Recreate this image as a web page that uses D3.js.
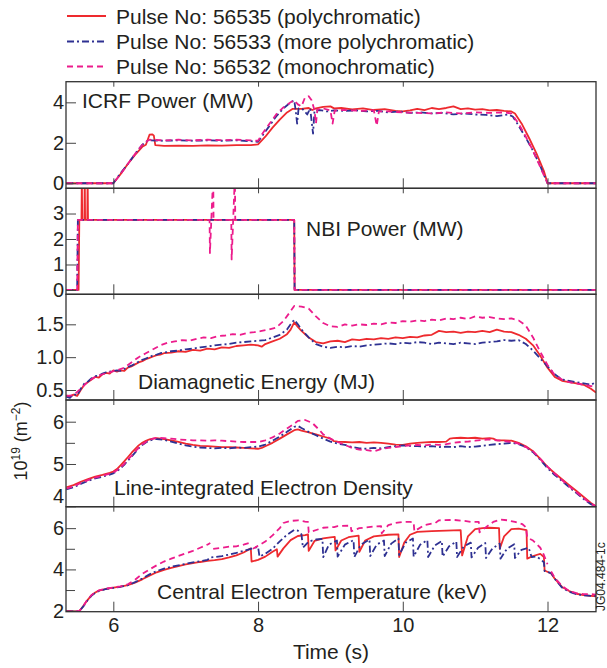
<!DOCTYPE html>
<html>
<head>
<meta charset="utf-8">
<script src="https://cdn.jsdelivr.net/npm/d3@7"></script>
<style>
  body { margin: 0; background: #fff; }
  svg { display: block; }
  text { font-family: "Liberation Sans", Arial, Helvetica, sans-serif; fill: #231f20; }
</style>
</head>
<body>
<svg id="chart" width="607" height="668"></svg>
<script>
// ---- data: [time (s), value] ----
const pulses = ["Pulse No: 56535 (polychromatic)", "Pulse No: 56533 (more polychromatic)", "Pulse No: 56532 (monochromatic)"];
const timeTicks = [6, 8, 10, 12];

const icrfRed = [[5.35,0],[6.0,0],[6.1,0.45],[6.2,0.95],[6.3,1.4],[6.4,1.8],[6.45,1.9],[6.48,2.2],[6.5,2.4],[6.54,2.42],[6.56,2.35],[6.58,1.88],[6.7,1.85],[6.9,1.86],[7.1,1.85],[7.3,1.87],[7.5,1.86],[7.7,1.88],[7.9,1.88],[8.0,1.92],[8.1,2.3],[8.2,2.75],[8.3,3.15],[8.4,3.5],[8.48,3.68],[8.6,3.68],[8.7,3.72],[8.75,3.62],[8.8,3.7],[8.9,3.78],[9.0,3.8],[9.05,3.7],[9.15,3.72],[9.3,3.65],[9.45,3.7],[9.6,3.62],[9.75,3.66],[9.9,3.58],[10.0,3.55],[10.1,3.6],[10.2,3.68],[10.3,3.62],[10.4,3.72],[10.5,3.66],[10.6,3.72],[10.7,3.8],[10.8,3.66],[10.9,3.7],[11.0,3.64],[11.1,3.66],[11.2,3.6],[11.3,3.62],[11.4,3.58],[11.5,3.55],[11.55,3.45],[11.65,2.9],[11.75,2.2],[11.85,1.45],[11.95,0.6],[12.0,0],[12.67,0]];
const icrfBlue = [[5.35,0],[6.0,0],[6.1,0.5],[6.2,0.95],[6.3,1.45],[6.4,1.9],[6.45,2.05],[6.5,2.12],[6.7,2.1],[6.9,2.12],[7.1,2.1],[7.3,2.12],[7.5,2.1],[7.7,2.12],[7.9,2.08],[8.0,2.05],[8.05,2.3],[8.15,2.8],[8.25,3.3],[8.35,3.7],[8.45,4.0],[8.5,4.1],[8.52,3.6],[8.54,2.95],[8.56,3.7],[8.62,3.65],[8.68,3.4],[8.72,3.7],[8.76,2.45],[8.78,3.6],[8.85,3.62],[8.95,3.55],[9.05,3.6],[9.2,3.58],[9.35,3.6],[9.5,3.55],[9.65,3.58],[9.8,3.5],[9.95,3.55],[10.1,3.48],[10.25,3.5],[10.4,3.45],[10.55,3.48],[10.7,3.4],[10.85,3.45],[11.0,3.4],[11.15,3.38],[11.3,3.32],[11.45,3.4],[11.52,3.3],[11.6,2.85],[11.7,2.25],[11.8,1.6],[11.9,0.85],[12.0,0],[12.67,0]];
const icrfMag = [[5.35,0],[6.0,0],[6.1,0.45],[6.2,0.95],[6.3,1.45],[6.4,1.9],[6.45,2.05],[6.5,2.15],[6.7,2.12],[6.9,2.15],[7.1,2.12],[7.3,2.15],[7.5,2.13],[7.7,2.15],[7.9,2.12],[8.0,2.1],[8.05,2.4],[8.15,2.9],[8.25,3.4],[8.35,3.75],[8.45,4.0],[8.5,4.1],[8.55,3.9],[8.6,3.8],[8.65,4.25],[8.7,4.3],[8.74,4.1],[8.78,3.6],[8.8,2.95],[8.82,3.65],[8.9,3.7],[9.0,3.6],[9.03,2.95],[9.06,3.6],[9.2,3.62],[9.4,3.58],[9.6,3.6],[9.64,2.85],[9.67,3.55],[9.8,3.55],[10.0,3.5],[10.2,3.48],[10.4,3.45],[10.6,3.5],[10.8,3.45],[11.0,3.5],[11.2,3.48],[11.4,3.5],[11.5,3.45],[11.6,2.95],[11.7,2.3],[11.8,1.6],[11.9,0.8],[12.0,0],[12.67,0]];

const nbiRed = [[5.35,0],[5.52,0],[5.53,2.75],[5.56,2.75],[5.565,4.5],[5.57,2.75],[5.6,2.75],[5.605,4.5],[5.61,2.75],[5.64,2.75],[5.645,4.5],[5.65,2.75],[8.5,2.75],[8.505,0],[12.67,0]];
const nbiBlue = [[5.35,0],[5.5,0],[5.51,2.75],[8.5,2.75],[8.505,0],[12.67,0]];
const nbiMag = [[5.35,0],[5.5,0],[5.51,2.75],[7.33,2.75],[7.335,1.45],[7.38,4.5],[7.385,2.75],[7.63,2.75],[7.635,1.2],[7.68,4.5],[7.685,2.75],[8.5,2.75],[8.505,0],[12.67,0]];

const wdiaRed = [[5.35,0.42],[5.4,0.4],[5.45,0.43],[5.5,0.41],[5.55,0.5],[5.6,0.58],[5.65,0.62],[5.7,0.66],[5.75,0.7],[5.8,0.69],[5.85,0.74],[5.9,0.76],[5.95,0.75],[6.0,0.8],[6.05,0.78],[6.1,0.8],[6.15,0.79],[6.2,0.84],[6.25,0.86],[6.3,0.89],[6.35,0.92],[6.4,0.94],[6.45,0.97],[6.5,0.99],[6.55,1.01],[6.6,1.03],[6.65,1.04],[6.7,1.06],[6.8,1.07],[6.9,1.09],[7.0,1.08],[7.1,1.11],[7.2,1.1],[7.3,1.13],[7.4,1.12],[7.5,1.15],[7.6,1.14],[7.7,1.17],[7.8,1.18],[7.9,1.19],[8.0,1.18],[8.05,1.16],[8.1,1.2],[8.2,1.24],[8.3,1.28],[8.4,1.35],[8.45,1.42],[8.5,1.53],[8.55,1.46],[8.6,1.4],[8.7,1.3],[8.8,1.23],[8.9,1.21],[9.0,1.24],[9.1,1.25],[9.2,1.23],[9.3,1.27],[9.4,1.26],[9.5,1.28],[9.6,1.27],[9.7,1.29],[9.8,1.28],[9.9,1.3],[10.0,1.29],[10.1,1.31],[10.2,1.3],[10.3,1.33],[10.4,1.34],[10.5,1.4],[10.6,1.38],[10.7,1.39],[10.8,1.37],[10.9,1.39],[11.0,1.38],[11.1,1.4],[11.2,1.38],[11.3,1.42],[11.4,1.39],[11.5,1.38],[11.6,1.34],[11.7,1.28],[11.8,1.18],[11.9,1.02],[12.0,0.84],[12.1,0.7],[12.2,0.64],[12.3,0.62],[12.4,0.6],[12.5,0.58],[12.6,0.52],[12.67,0.46]];
const wdiaBlue = [[5.35,0.4],[5.4,0.38],[5.45,0.44],[5.5,0.42],[5.55,0.52],[5.6,0.6],[5.65,0.63],[5.7,0.68],[5.75,0.71],[5.8,0.72],[5.85,0.75],[5.9,0.77],[5.95,0.78],[6.0,0.79],[6.05,0.8],[6.1,0.79],[6.15,0.82],[6.2,0.85],[6.25,0.87],[6.3,0.9],[6.35,0.93],[6.4,0.96],[6.45,0.98],[6.5,1.0],[6.55,1.03],[6.6,1.04],[6.65,1.06],[6.7,1.07],[6.8,1.09],[6.9,1.1],[7.0,1.12],[7.1,1.13],[7.2,1.15],[7.3,1.16],[7.4,1.18],[7.5,1.19],[7.6,1.2],[7.7,1.22],[7.8,1.23],[7.9,1.24],[8.0,1.25],[8.1,1.26],[8.2,1.3],[8.3,1.34],[8.4,1.42],[8.45,1.5],[8.5,1.57],[8.55,1.5],[8.6,1.42],[8.7,1.3],[8.8,1.2],[8.9,1.16],[9.0,1.14],[9.1,1.16],[9.2,1.15],[9.3,1.17],[9.4,1.16],[9.5,1.18],[9.6,1.19],[9.7,1.2],[9.8,1.21],[9.9,1.2],[10.0,1.22],[10.1,1.21],[10.2,1.23],[10.3,1.22],[10.4,1.2],[10.5,1.22],[10.6,1.21],[10.7,1.2],[10.8,1.22],[10.9,1.21],[11.0,1.2],[11.1,1.22],[11.2,1.23],[11.3,1.24],[11.4,1.26],[11.5,1.25],[11.6,1.26],[11.7,1.2],[11.8,1.1],[11.9,0.98],[12.0,0.86],[12.1,0.74],[12.2,0.66],[12.3,0.64],[12.4,0.62],[12.5,0.6],[12.6,0.58],[12.67,0.62]];
const wdiaMag = [[5.35,0.41],[5.45,0.42],[5.55,0.52],[5.65,0.63],[5.75,0.7],[5.85,0.74],[5.95,0.77],[6.05,0.8],[6.15,0.84],[6.25,0.92],[6.35,1.0],[6.45,1.06],[6.55,1.12],[6.65,1.18],[6.75,1.22],[6.85,1.24],[6.95,1.26],[7.05,1.25],[7.15,1.28],[7.25,1.3],[7.35,1.29],[7.45,1.32],[7.55,1.33],[7.65,1.35],[7.75,1.34],[7.85,1.37],[7.95,1.38],[8.05,1.4],[8.15,1.42],[8.25,1.45],[8.35,1.55],[8.45,1.7],[8.5,1.78],[8.6,1.77],[8.7,1.74],[8.8,1.62],[8.9,1.52],[9.0,1.47],[9.1,1.46],[9.2,1.5],[9.3,1.48],[9.4,1.5],[9.5,1.49],[9.6,1.51],[9.7,1.5],[9.8,1.53],[9.9,1.52],[10.0,1.55],[10.1,1.54],[10.2,1.56],[10.3,1.55],[10.4,1.57],[10.5,1.56],[10.6,1.59],[10.7,1.58],[10.8,1.6],[10.9,1.58],[11.0,1.62],[11.1,1.6],[11.2,1.61],[11.3,1.59],[11.4,1.58],[11.5,1.59],[11.6,1.56],[11.7,1.48],[11.8,1.3],[11.9,1.08],[12.0,0.88],[12.1,0.73],[12.2,0.66],[12.3,0.62],[12.4,0.6],[12.5,0.58],[12.6,0.56],[12.67,0.55]];

const neRed = [[5.35,4.45],[5.45,4.5],[5.55,4.58],[5.65,4.64],[5.75,4.7],[5.85,4.74],[5.95,4.79],[6.0,4.82],[6.05,4.88],[6.1,4.97],[6.15,5.06],[6.2,5.16],[6.25,5.26],[6.3,5.35],[6.35,5.44],[6.4,5.5],[6.45,5.55],[6.5,5.58],[6.55,5.6],[6.6,5.61],[6.7,5.59],[6.8,5.56],[6.9,5.52],[7.0,5.48],[7.1,5.45],[7.2,5.43],[7.3,5.42],[7.4,5.41],[7.5,5.4],[7.6,5.4],[7.7,5.39],[7.8,5.38],[7.9,5.37],[8.0,5.36],[8.05,5.38],[8.1,5.42],[8.2,5.5],[8.3,5.6],[8.4,5.7],[8.5,5.8],[8.55,5.82],[8.6,5.79],[8.7,5.75],[8.8,5.7],[8.9,5.65],[9.0,5.6],[9.05,5.54],[9.1,5.53],[9.2,5.52],[9.3,5.51],[9.4,5.52],[9.5,5.5],[9.6,5.51],[9.7,5.5],[9.8,5.48],[9.9,5.46],[10.0,5.45],[10.1,5.48],[10.2,5.5],[10.3,5.51],[10.4,5.52],[10.5,5.52],[10.6,5.53],[10.65,5.6],[10.7,5.61],[10.8,5.62],[10.9,5.61],[11.0,5.62],[11.1,5.6],[11.2,5.61],[11.25,5.6],[11.3,5.56],[11.4,5.56],[11.5,5.55],[11.6,5.5],[11.7,5.42],[11.8,5.3],[11.9,5.12],[12.0,4.93],[12.1,4.78],[12.2,4.64],[12.3,4.5],[12.4,4.36],[12.5,4.22],[12.6,4.08],[12.67,4.0]];
const neBlue = [[5.35,4.4],[5.45,4.45],[5.55,4.53],[5.65,4.6],[5.75,4.66],[5.85,4.7],[5.95,4.75],[6.0,4.78],[6.05,4.83],[6.1,4.9],[6.15,4.98],[6.2,5.08],[6.25,5.17],[6.3,5.27],[6.35,5.37],[6.4,5.45],[6.45,5.51],[6.5,5.55],[6.55,5.58],[6.6,5.59],[6.7,5.57],[6.8,5.53],[6.9,5.48],[7.0,5.44],[7.1,5.41],[7.2,5.39],[7.3,5.38],[7.4,5.37],[7.5,5.38],[7.6,5.37],[7.7,5.39],[7.8,5.38],[7.9,5.4],[8.0,5.41],[8.1,5.46],[8.2,5.55],[8.3,5.65],[8.4,5.76],[8.5,5.88],[8.55,5.9],[8.6,5.85],[8.7,5.76],[8.8,5.68],[8.9,5.6],[9.0,5.53],[9.1,5.48],[9.2,5.45],[9.3,5.4],[9.4,5.37],[9.5,5.36],[9.6,5.38],[9.7,5.37],[9.8,5.4],[9.9,5.42],[10.0,5.44],[10.1,5.43],[10.2,5.42],[10.3,5.41],[10.4,5.42],[10.5,5.4],[10.6,5.41],[10.7,5.4],[10.8,5.42],[10.9,5.4],[11.0,5.41],[11.1,5.43],[11.2,5.45],[11.3,5.47],[11.4,5.48],[11.5,5.5],[11.6,5.47],[11.7,5.4],[11.8,5.28],[11.9,5.1],[12.0,4.9],[12.1,4.74],[12.2,4.6],[12.3,4.45],[12.4,4.31],[12.5,4.17],[12.6,4.05],[12.67,3.99]];
const neMag = [[5.35,4.42],[5.45,4.47],[5.55,4.55],[5.65,4.62],[5.75,4.68],[5.85,4.72],[5.95,4.77],[6.0,4.8],[6.05,4.85],[6.1,4.92],[6.15,5.0],[6.2,5.1],[6.25,5.19],[6.3,5.29],[6.35,5.38],[6.4,5.46],[6.45,5.52],[6.5,5.57],[6.55,5.6],[6.6,5.62],[6.7,5.61],[6.8,5.6],[6.9,5.58],[7.0,5.57],[7.1,5.56],[7.2,5.56],[7.3,5.55],[7.4,5.56],[7.5,5.55],[7.6,5.54],[7.7,5.53],[7.8,5.52],[7.9,5.52],[8.0,5.52],[8.1,5.56],[8.2,5.63],[8.3,5.72],[8.4,5.84],[8.5,5.95],[8.55,6.02],[8.65,6.04],[8.75,5.97],[8.85,5.8],[8.9,5.7],[9.0,5.6],[9.1,5.52],[9.2,5.45],[9.3,5.38],[9.4,5.34],[9.5,5.33],[9.6,5.3],[9.7,5.35],[9.8,5.38],[9.9,5.4],[10.0,5.42],[10.1,5.44],[10.2,5.45],[10.3,5.44],[10.4,5.46],[10.5,5.45],[10.6,5.47],[10.7,5.5],[10.8,5.52],[10.9,5.53],[11.0,5.55],[11.1,5.57],[11.2,5.58],[11.3,5.56],[11.4,5.54],[11.5,5.52],[11.6,5.48],[11.7,5.4],[11.8,5.3],[11.9,5.12],[12.0,4.94],[12.1,4.77],[12.2,4.62],[12.3,4.47],[12.4,4.33],[12.5,4.19],[12.6,4.06],[12.67,4.0]];

const teRed = [[5.35,1.98],[5.45,1.97],[5.53,1.98],[5.58,2.2],[5.64,2.5],[5.7,2.75],[5.75,2.88],[5.8,2.97],[5.9,3.06],[6.0,3.12],[6.1,3.17],[6.2,3.24],[6.3,3.36],[6.4,3.52],[6.5,3.7],[6.6,3.86],[6.7,3.98],[6.8,4.08],[6.9,4.16],[7.0,4.24],[7.1,4.3],[7.2,4.36],[7.3,4.41],[7.4,4.45],[7.5,4.5],[7.6,4.58],[7.7,4.68],[7.8,4.82],[7.9,5.02],[7.91,4.38],[8.0,4.46],[8.1,4.62],[8.2,4.86],[8.26,4.98],[8.27,4.62],[8.35,5.02],[8.45,5.42],[8.55,5.62],[8.65,5.66],[8.69,5.7],[8.7,4.9],[8.78,5.38],[8.9,5.5],[9.0,5.55],[9.06,5.58],[9.07,4.92],[9.15,5.4],[9.25,5.56],[9.39,5.64],[9.4,4.85],[9.48,5.4],[9.6,5.6],[9.8,5.68],[9.94,5.7],[9.95,4.6],[10.02,5.3],[10.1,5.68],[10.2,5.82],[10.4,5.86],[10.6,5.88],[10.8,5.9],[10.82,4.68],[10.9,5.6],[11.0,5.95],[11.1,6.0],[11.2,6.02],[11.33,6.0],[11.34,5.0],[11.4,5.6],[11.5,5.95],[11.6,5.98],[11.71,5.9],[11.72,4.52],[11.8,4.65],[11.9,4.75],[11.95,4.6],[11.96,3.95],[12.05,3.8],[12.1,3.55],[12.2,3.15],[12.3,2.95],[12.4,2.82],[12.5,2.75],[12.6,2.72],[12.67,2.7]];
const teBlue = [[5.35,1.97],[5.45,1.96],[5.53,1.98],[5.58,2.18],[5.64,2.48],[5.7,2.73],[5.75,2.86],[5.8,2.95],[5.9,3.05],[6.0,3.1],[6.1,3.16],[6.2,3.23],[6.3,3.38],[6.4,3.56],[6.5,3.76],[6.6,3.92],[6.7,4.04],[6.8,4.13],[6.9,4.2],[7.0,4.27],[7.1,4.34],[7.2,4.4],[7.3,4.46],[7.34,4.58],[7.4,4.6],[7.5,4.64],[7.6,4.72],[7.7,4.8],[7.8,4.9],[7.9,5.0],[8.0,5.1],[8.02,4.62],[8.1,4.76],[8.2,5.0],[8.3,5.36],[8.4,5.68],[8.5,5.92],[8.55,5.88],[8.6,5.7],[8.62,5.05],[8.7,5.35],[8.8,5.45],[8.89,5.48],[8.9,4.6],[8.98,5.2],[9.09,5.4],[9.1,4.62],[9.2,5.2],[9.32,5.42],[9.33,4.6],[9.42,5.2],[9.54,5.45],[9.55,4.65],[9.64,5.2],[9.74,5.4],[9.75,4.65],[9.84,5.25],[9.94,5.5],[9.95,4.7],[10.04,5.3],[10.14,5.5],[10.15,4.62],[10.24,5.2],[10.34,5.42],[10.35,4.6],[10.44,5.15],[10.54,5.38],[10.55,4.62],[10.64,5.12],[10.74,5.35],[10.75,4.6],[10.84,5.1],[10.94,5.3],[10.95,4.58],[11.04,5.05],[11.14,5.28],[11.15,4.55],[11.24,5.02],[11.34,5.25],[11.35,4.52],[11.44,5.0],[11.54,5.22],[11.55,4.55],[11.64,4.95],[11.74,5.05],[11.78,4.6],[11.85,4.62],[11.9,4.5],[11.95,4.35],[11.96,3.92],[12.05,3.82],[12.1,3.55],[12.2,3.12],[12.3,2.92],[12.4,2.8],[12.5,2.74],[12.6,2.72],[12.67,2.72]];
const teMag = [[5.35,1.98],[5.45,1.97],[5.53,1.98],[5.58,2.2],[5.64,2.52],[5.7,2.76],[5.75,2.89],[5.8,2.98],[5.9,3.07],[6.0,3.12],[6.1,3.18],[6.2,3.28],[6.3,3.5],[6.4,3.78],[6.5,4.0],[6.6,4.2],[6.7,4.38],[6.8,4.52],[6.9,4.65],[7.0,4.78],[7.1,4.9],[7.2,5.05],[7.3,5.2],[7.34,5.28],[7.36,null],[7.38,5.0],[7.5,5.05],[7.6,5.1],[7.7,5.12],[7.8,5.2],[7.88,5.28],[7.9,null],[7.93,5.0],[8.0,5.15],[8.1,5.35],[8.2,5.65],[8.3,6.0],[8.35,6.25],[8.45,6.35],[8.55,6.38],[8.65,6.32],[8.69,6.3],[8.7,5.8],[8.75,5.85],[8.9,6.02],[9.05,6.05],[9.1,6.1],[9.28,6.12],[9.29,5.85],[9.4,6.0],[9.6,6.08],[9.7,6.1],[9.71,5.75],[9.8,6.15],[9.9,6.25],[10.0,6.3],[10.1,6.3],[10.15,6.28],[10.16,5.85],[10.3,6.15],[10.45,6.25],[10.5,6.38],[10.7,6.4],[10.85,6.35],[10.95,6.3],[11.05,6.3],[11.06,5.8],[11.15,6.05],[11.25,6.3],[11.35,6.42],[11.45,6.38],[11.55,6.3],[11.65,6.2],[11.7,6.05],[11.72,5.55],[11.8,5.4],[11.9,5.05],[11.95,4.7],[12.0,4.25],[12.02,null],[12.05,3.9],[12.1,3.6],[12.2,3.2],[12.3,2.95],[12.4,2.85],[12.5,2.8],[12.6,2.8],[12.67,2.78]];

const icrfTicks = [0, 2, 4];
const nbiTicks = [0, 1, 2, 3];
const wdiaTicks = [0.5, 1.0, 1.5];
const neTicks = [4, 5, 6], neMinor = [5.5];
const teTicks = [2, 4, 6], teMinor = [3, 5];

// ---- layout ----
const left = 66, right = 596;
const colors = ["#ee2a2e", "#2e3192", "#ec1c8c"];
const dashes = [null, "7,3,2,3", "6,4"];

const svg = d3.select("#chart");
const x = d3.scaleLinear().domain([5.346, 12.67]).range([left, right]);

const panels = [
  {top: 81.7, bottom: 188.3, domain: [-0.25, 5.02], ticks: icrfTicks, minor: [], fmt: d3.format("d"),
   series: [icrfRed, icrfBlue, icrfMag], label: "ICRF Power (MW)", lx: 82, ly: 108},
  {top: 188.3, bottom: 294.3, domain: [-0.17, 3.99], ticks: nbiTicks, minor: [], fmt: d3.format("d"),
   series: [nbiRed, nbiBlue, nbiMag], label: "NBI Power (MW)", lx: 306, ly: 236},
  {top: 294.3, bottom: 400, domain: [0.348, 1.957], ticks: wdiaTicks, minor: [], fmt: d3.format(".1f"),
   series: [wdiaRed, wdiaBlue, wdiaMag], label: "Diamagnetic Energy (MJ)", lx: 138, ly: 389},
  {top: 400, bottom: 506.7, domain: [3.99, 6.513], ticks: neTicks, minor: neMinor, fmt: d3.format("d"),
   series: [neRed, neBlue, neMag], label: "Line-integrated Electron Density", lx: 114, ly: 495, liftLow: 10},
  {top: 506.7, bottom: 611.7, domain: [1.95, 7.04], ticks: teTicks, minor: teMinor, fmt: d3.format("d"),
   series: [teRed, teBlue, teMag], label: "Central Electron Temperature (keV)", lx: 157, ly: 599}
];

panels.forEach((p, i) => {
  const y = d3.scaleLinear().domain(p.domain).range([p.bottom, p.top]);
  const g = svg.append("g");

  g.append("clipPath").attr("id", "clip" + i)
    .append("rect").attr("x", left).attr("y", p.top)
    .attr("width", right - left).attr("height", p.bottom - p.top);

  const line = d3.line()
    .defined(d => d[1] != null)
    .x(d => x(d[0])).y(d => y(d[1]));

  const traces = g.append("g").attr("clip-path", `url(#clip${i})`);
  p.series.forEach((s, k) => {
    traces.append("path").datum(s)
      .attr("d", line)
      .attr("fill", "none")
      .attr("stroke", colors[k])
      .attr("stroke-width", 1.8)
      .attr("stroke-dasharray", dashes[k])
      .attr("stroke-linejoin", "round");
  });

  // y axis, ticks pointing in
  const ya = g.append("g").attr("transform", `translate(${left},0)`)
    .attr("color", "#444")
    .call(d3.axisLeft(y).tickValues(p.ticks).tickSize(-10).tickPadding(2).tickFormat(p.fmt));
  ya.select(".domain").remove();
  ya.selectAll("text").attr("font-size", 20).attr("fill", "#231f20")
    .attr("font-family", "Liberation Sans, Arial, sans-serif");
  if (p.liftLow) {
    ya.selectAll(".tick").filter(d => d === p.ticks[0])
      .select("text").attr("y", -p.liftLow);
  }
  if (p.minor.length) {
    const ym = g.append("g").attr("transform", `translate(${left},0)`).attr("color", "#444")
      .call(d3.axisLeft(y).tickValues(p.minor).tickSize(-9).tickFormat(""));
    ym.select(".domain").remove();
  }

  // x ticks at bottom (in) and top (in)
  const last = i === panels.length - 1;
  const xb = g.append("g").attr("transform", `translate(0,${p.bottom})`).attr("color", "#444")
    .call(d3.axisBottom(x).tickValues(timeTicks).tickSize(-10).tickPadding(6)
      .tickFormat(last ? d3.format("d") : ""));
  xb.select(".domain").remove();
  xb.selectAll("text").attr("font-size", 20).attr("fill", "#231f20")
    .attr("font-family", "Liberation Sans, Arial, sans-serif");
  const xt = g.append("g").attr("transform", `translate(0,${p.top})`).attr("color", "#444")
    .call(d3.axisTop(x).tickValues(timeTicks).tickSize(-5).tickFormat(""));
  xt.select(".domain").remove();

  g.append("rect")
    .attr("x", left).attr("y", p.top)
    .attr("width", right - left).attr("height", p.bottom - p.top)
    .attr("fill", "none").attr("stroke", "#333").attr("stroke-width", 1.3);

  g.append("text").attr("x", p.lx).attr("y", p.ly)
    .attr("font-size", 21).text(p.label);
});

// legend
const legend = svg.append("g");
const rowsY = [16, 41.5, 66.5];
pulses.forEach((name, k) => {
  legend.append("line")
    .attr("x1", 67).attr("x2", 106).attr("y1", rowsY[k]).attr("y2", rowsY[k])
    .attr("stroke", colors[k]).attr("stroke-width", 1.8)
    .attr("stroke-dasharray", dashes[k]);
  legend.append("text").attr("x", 116).attr("y", rowsY[k] + 7.5)
    .attr("font-size", 21).text(name);
});

// axis titles
svg.append("text").attr("x", 331).attr("y", 659)
  .attr("text-anchor", "middle").attr("font-size", 21).text("Time (s)");

const yt = svg.append("text")
  .attr("transform", "translate(27,441) rotate(-90)")
  .attr("text-anchor", "middle").attr("font-size", 18);
yt.append("tspan").text("10");
yt.append("tspan").attr("font-size", 12).attr("dy", -7).text("19");
yt.append("tspan").attr("dy", 7).text(" (m");
yt.append("tspan").attr("font-size", 12).attr("dy", -7).text("\u22122");
yt.append("tspan").attr("dy", 7).text(")");

svg.append("text")
  .attr("transform", "translate(605,611) rotate(-90)")
  .attr("font-size", 12).text("JG04.484-1c");
</script>
</body>
</html>
